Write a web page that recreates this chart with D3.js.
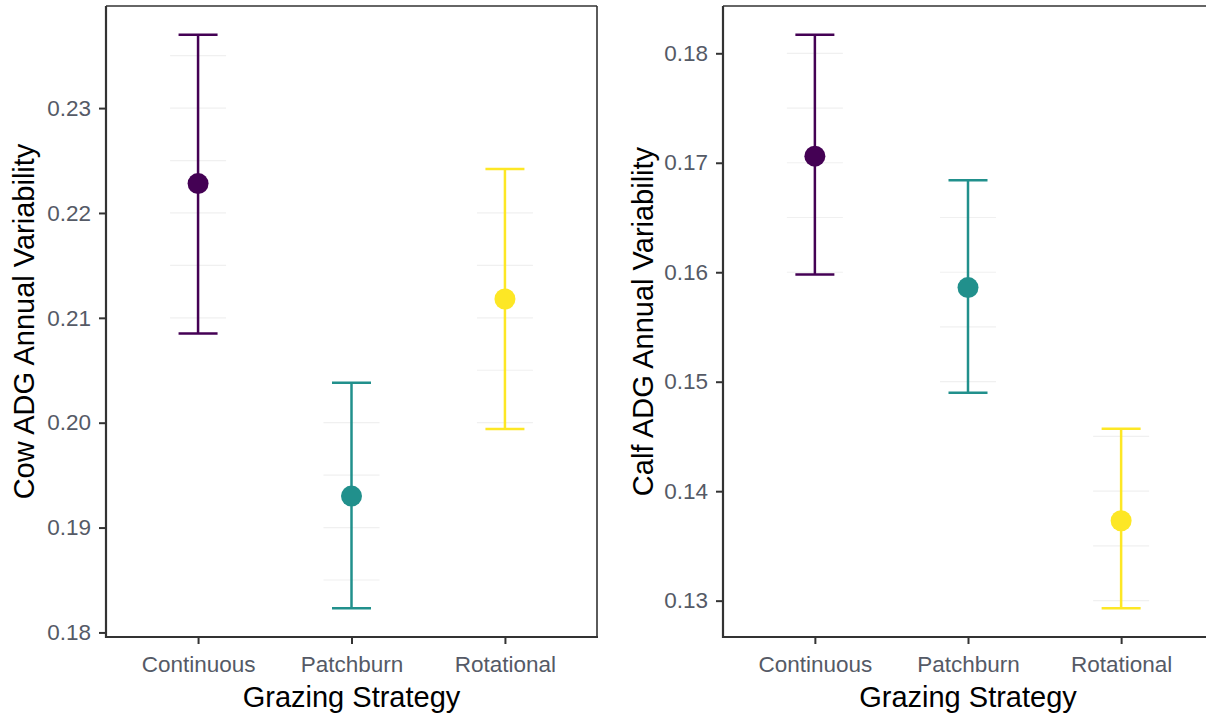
<!DOCTYPE html>
<html>
<head>
<meta charset="utf-8">
<script src="https://cdn.jsdelivr.net/npm/d3@7"></script>
<style>
  html, body { margin: 0; padding: 0; background: #fff; }
  svg { display: block; }
</style>
</head>
<body>
<svg id="chart" width="1206" height="717"></svg>
<script>
// ---- data ----
const categories = ["Continuous", "Patchburn", "Rotational"];
const colors = ["#440154", "#21908C", "#FDE725"];

const cowMean = [0.2228, 0.1930, 0.2118];
const cowLow  = [0.2085, 0.1823, 0.1994];
const cowHigh = [0.2370, 0.2038, 0.2242];
const cowTicks = [0.18, 0.19, 0.20, 0.21, 0.22, 0.23];

const calfMean = [0.1706, 0.1586, 0.1373];
const calfLow  = [0.1598, 0.1490, 0.1293];
const calfHigh = [0.1817, 0.1684, 0.1457];
const calfTicks = [0.13, 0.14, 0.15, 0.16, 0.17, 0.18];

const xTitle = "Grazing Strategy";
const cowTitle = "Cow ADG Annual Variability";
const calfTitle = "Calf ADG Annual Variability";

const svg = d3.select("#chart");
const font = "'Liberation Sans', Arial, sans-serif";

function panel(opts) {
  const {left, right, top, bottom, mean, low, high, ticks, title, titleX} = opts;
  const g = svg.append("g");
  const lo = d3.min(low), hi = d3.max(high);
  const pad = (hi - lo) * 0.05;
  const y = d3.scaleLinear().domain([lo - pad, hi + pad]).range([bottom, top]);
  const x = d3.scalePoint().domain(categories).range([left, right]).padding(0.6);

  const rows = categories.map((c, i) => ({c, i, m: mean[i], l: low[i], h: high[i]}));

  // faint remnant gridlines around each bar
  const minor = d3.range(Math.ceil((lo - pad) / 0.005) * 0.005, hi + pad, 0.005);
  rows.forEach(r => {
    minor.filter(v => v >= r.l - 0.0005 && v <= r.h + 0.0005).forEach(v => {
      g.append("line")
        .attr("x1", x(r.c) - 28).attr("x2", x(r.c) + 28)
        .attr("y1", y(v)).attr("y2", y(v))
        .attr("stroke", "#f0f0f0").attr("stroke-width", 1.2);
    });
  });

  // border top/right
  g.append("line").attr("x1", left).attr("x2", right).attr("y1", top).attr("y2", top)
    .attr("stroke", "#333").attr("stroke-width", 1.6);
  g.append("line").attr("x1", right).attr("x2", right).attr("y1", top).attr("y2", bottom)
    .attr("stroke", "#333").attr("stroke-width", 1.6);

  // axes
  const yAxis = d3.axisLeft(y).tickValues(ticks).tickFormat(d3.format(".2f")).tickSize(7).tickPadding(8);
  const ya = g.append("g").attr("transform", `translate(${left},0)`).call(yAxis);
  const xAxis = d3.axisBottom(x).tickSize(7).tickPadding(12);
  const xa = g.append("g").attr("transform", `translate(0,${bottom})`).call(xAxis);
  [ya, xa].forEach(a => {
    a.select(".domain").remove();
    a.selectAll(".tick line").attr("stroke", "#333").attr("stroke-width", 2);
    a.selectAll(".tick text").attr("fill", "#555a66").style("font-family", font).style("font-size", "22.5px");
  });
  g.append("line").attr("x1", left).attr("x2", left).attr("y1", top).attr("y2", bottom + 1)
    .attr("stroke", "#333").attr("stroke-width", 2.2);
  g.append("line").attr("x1", left - 1).attr("x2", right + 1).attr("y1", bottom).attr("y2", bottom)
    .attr("stroke", "#333").attr("stroke-width", 2.2);

  // error bars
  const capW = 39;
  const eb = g.selectAll(".eb").data(rows).enter().append("g");
  eb.append("line").attr("x1", d => x(d.c)).attr("x2", d => x(d.c))
    .attr("y1", d => y(d.l)).attr("y2", d => y(d.h))
    .attr("stroke", d => colors[d.i]).attr("stroke-width", 2.5);
  eb.append("line").attr("x1", d => x(d.c) - capW / 2).attr("x2", d => x(d.c) + capW / 2)
    .attr("y1", d => y(d.l)).attr("y2", d => y(d.l))
    .attr("stroke", d => colors[d.i]).attr("stroke-width", 2.5);
  eb.append("line").attr("x1", d => x(d.c) - capW / 2).attr("x2", d => x(d.c) + capW / 2)
    .attr("y1", d => y(d.h)).attr("y2", d => y(d.h))
    .attr("stroke", d => colors[d.i]).attr("stroke-width", 2.5);
  eb.append("circle").attr("cx", d => x(d.c)).attr("cy", d => y(d.m)).attr("r", 10.5)
    .attr("fill", d => colors[d.i]);

  // titles
  g.append("text").attr("x", (left + right) / 2).attr("y", 707)
    .attr("text-anchor", "middle").style("font-family", font).style("font-size", "29px")
    .attr("fill", "#000").text(xTitle);
  g.append("text").attr("transform", `translate(${titleX},${(top + bottom) / 2}) rotate(-90)`)
    .attr("text-anchor", "middle").style("font-family", font).style("font-size", "29px")
    .attr("fill", "#000").text(title);
}

panel({left: 106, right: 597, top: 6, bottom: 637, mean: cowMean, low: cowLow, high: cowHigh,
       ticks: cowTicks, title: cowTitle, titleX: 34});
panel({left: 723, right: 1213, top: 6, bottom: 637, mean: calfMean, low: calfLow, high: calfHigh,
       ticks: calfTicks, title: calfTitle, titleX: 653});
</script>
</body>
</html>
